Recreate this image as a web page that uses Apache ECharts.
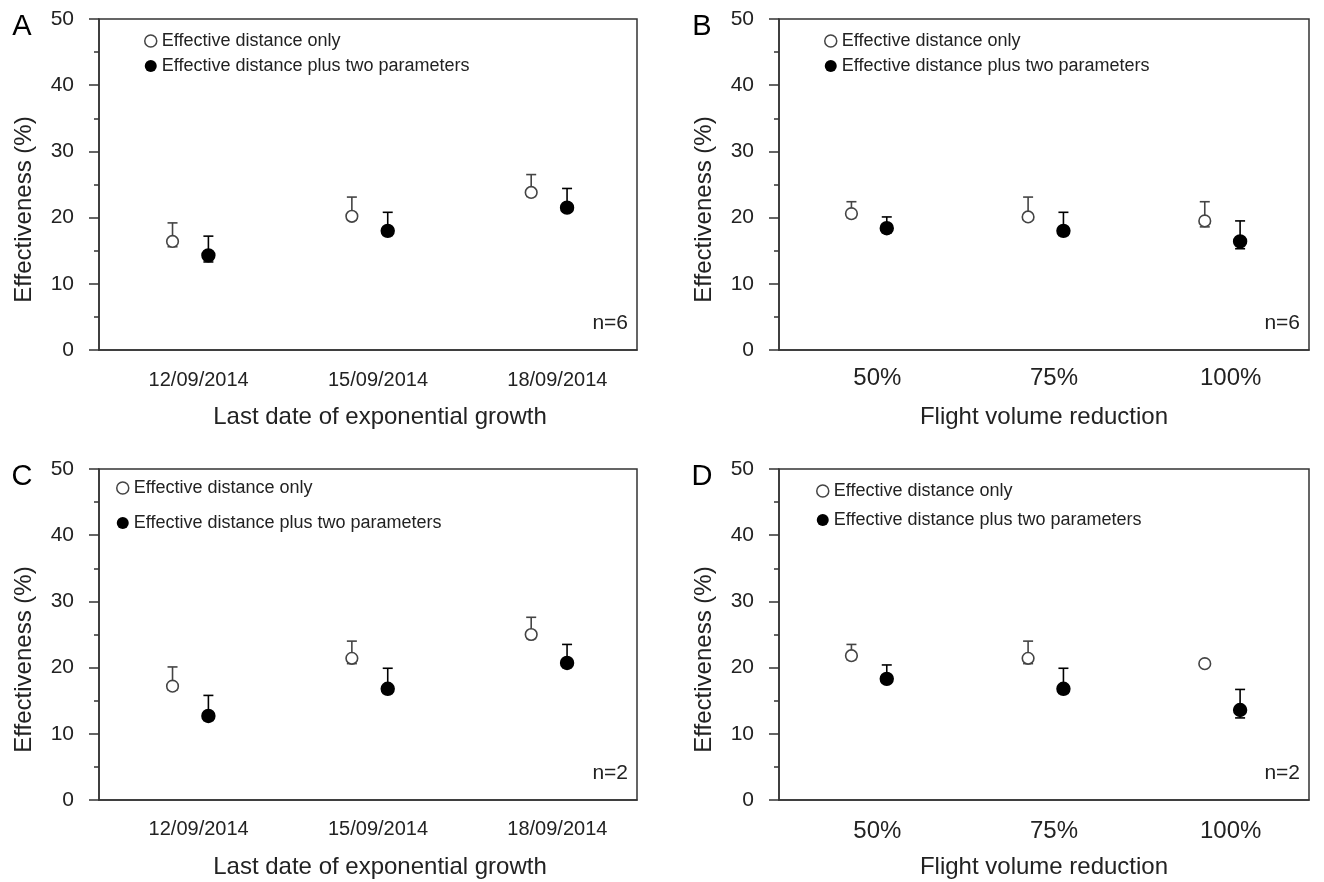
<!DOCTYPE html>
<html><head><meta charset="utf-8">
<script src="https://cdn.jsdelivr.net/npm/echarts@6/dist/echarts.min.js"></script>
<style>html,body{margin:0;padding:0;background:#fff}#c{width:1324px;height:882px}</style>
</head><body><div id="c"></div>
<script>
// ---- categories / labels ----
const dateCats = ['12/09/2014', '15/09/2014', '18/09/2014'];
const flightCats = ['50%', '75%', '100%'];
const seriesNames = ['Effective distance only', 'Effective distance plus two parameters'];
const yTitle = 'Effectiveness (%)';
const xTitleDate = 'Last date of exponential growth';
const xTitleFlight = 'Flight volume reduction';
const panelLetters = ['A', 'B', 'C', 'D'];
const nLabels = ['n=6', 'n=6', 'n=2', 'n=2'];

// ---- Panel A (n=6, by date) ----
const A_open = [16.4, 20.2, 23.8];
const A_openLo = [15.6, 19.6, 23.2];
const A_openHi = [19.2, 23.1, 26.5];
const A_fill = [14.3, 18.0, 21.5];
const A_fillLo = [13.3, 17.3, 20.9];
const A_fillHi = [17.2, 20.8, 24.4];

// ---- Panel B (n=6, by flight reduction) ----
const B_open = [20.6, 20.1, 19.5];
const B_openLo = [20.0, 19.6, 18.6];
const B_openHi = [22.4, 23.1, 22.4];
const B_fill = [18.4, 18.0, 16.4];
const B_fillLo = [17.7, 17.3, 15.3];
const B_fillHi = [20.1, 20.8, 19.5];

// ---- Panel C (n=2, by date) ----
const C_open = [17.2, 21.4, 25.0];
const C_openLo = [16.6, 20.6, 24.4];
const C_openHi = [20.1, 24.0, 27.6];
const C_fill = [12.7, 16.8, 20.7];
const C_fillLo = [12.0, 16.1, 20.0];
const C_fillHi = [15.8, 19.9, 23.5];

// ---- Panel D (n=2, by flight reduction) ----
const D_open = [21.8, 21.4, 20.6];
const D_openLo = [21.2, 20.6, 20.3];
const D_openHi = [23.5, 24.0, 20.9];
const D_fill = [18.3, 16.8, 13.6];
const D_fillLo = [17.7, 16.1, 12.4];
const D_fillHi = [20.4, 19.9, 16.7];

const FONT = 'Liberation Sans, Arial, sans-serif';
const TXT = '#222';
const AX = '#333';

const panels = [
  {cats: dateCats, xTitle: xTitleDate, catSize: 20, catMargin: 20, open: [A_open, A_openLo, A_openHi], fill: [A_fill, A_fillLo, A_fillHi],
   grid: {left: 99, top: 19, width: 538, height: 331}, legend: {left: 144, top: 32, gap: 7}},
  {cats: flightCats, xTitle: xTitleFlight, catSize: 24, catMargin: 16, open: [B_open, B_openLo, B_openHi], fill: [B_fill, B_fillLo, B_fillHi],
   grid: {left: 779, top: 19, width: 530, height: 331}, legend: {left: 824, top: 32, gap: 7}},
  {cats: dateCats, xTitle: xTitleDate, catSize: 20, catMargin: 19, open: [C_open, C_openLo, C_openHi], fill: [C_fill, C_fillLo, C_fillHi],
   grid: {left: 99, top: 469, width: 538, height: 331}, legend: {left: 116, top: 479, gap: 17}},
  {cats: flightCats, xTitle: xTitleFlight, catSize: 24, catMargin: 19, open: [D_open, D_openLo, D_openHi], fill: [D_fill, D_fillLo, D_fillHi],
   grid: {left: 779, top: 469, width: 530, height: 331}, legend: {left: 816, top: 482, gap: 11}}
];

function makeRender(offsetFrac, filled) {
  return function (params, api) {
    const c = api.value(0), y = api.value(1), lo = api.value(2), hi = api.value(3);
    const p = api.coord([c, y]);
    const band = api.size([1, 0])[0];
    const x = p[0] + offsetFrac * band;
    const yHi = api.coord([c, hi])[1];
    const yLo = api.coord([c, lo])[1];
    const cap = 5;
    const col = filled ? '#000' : '#444';
    return {
      type: 'group',
      children: [
        {type: 'line', shape: {x1: x, y1: yHi, x2: x, y2: yLo}, style: {stroke: col, lineWidth: 1.6}},
        {type: 'line', shape: {x1: x - cap, y1: yHi, x2: x + cap, y2: yHi}, style: {stroke: col, lineWidth: 1.6}},
        {type: 'line', shape: {x1: x - cap, y1: yLo, x2: x + cap, y2: yLo}, style: {stroke: col, lineWidth: 1.6}},
        {type: 'circle', shape: {cx: x, cy: p[1], r: filled ? 6.4 : 5.8},
         style: {fill: filled ? '#000' : '#fff', stroke: col, lineWidth: 1.6}}
      ]
    };
  };
}

const grid = [], xAxis = [], yAxis = [], series = [], legend = [], graphic = [];
panels.forEach((pn, i) => {
  grid.push(Object.assign({show: true, borderColor: AX, borderWidth: 1.5, backgroundColor: 'transparent'}, pn.grid));
  xAxis.push({
    type: 'category', gridIndex: i, data: pn.cats, boundaryGap: true,
    axisLine: {lineStyle: {color: AX, width: 1.5}}, axisTick: {show: false},
    axisLabel: {color: TXT, fontSize: pn.catSize, fontFamily: FONT, margin: pn.catMargin, padding: [0, 0, 0, 20]},
    name: pn.xTitle, nameLocation: 'middle', nameGap: 55,
    nameTextStyle: {color: TXT, fontSize: 24, fontFamily: FONT, padding: [0, 0, 0, i % 2 === 0 ? 24 : 0]}
  });
  yAxis.push({
    type: 'value', gridIndex: i, min: 0, max: 50, interval: 10,
    axisLine: {show: true, lineStyle: {color: AX, width: 1.5}},
    axisTick: {show: true, inside: false, length: 10, lineStyle: {color: AX, width: 1.5}},
    minorTick: {show: true, splitNumber: 2, length: 5, lineStyle: {color: AX, width: 1.5}},
    splitLine: {show: false},
    axisLabel: {color: TXT, fontSize: 21, fontFamily: FONT, margin: 25}
  });
  const mk = (arr) => arr[0].map((v, k) => [k, v, arr[1][k], arr[2][k]]);
  series.push({
    name: seriesNames[0], type: 'custom', xAxisIndex: i, yAxisIndex: i,
    renderItem: makeRender(-0.09, false), encode: {x: 0, y: 1}, data: mk(pn.open), z: 3
  });
  series.push({
    name: seriesNames[1], type: 'custom', xAxisIndex: i, yAxisIndex: i,
    renderItem: makeRender(0.11, true), encode: {x: 0, y: 1}, data: mk(pn.fill), z: 3
  });
  legend.push({
    left: pn.legend.left, top: pn.legend.top, orient: 'vertical', itemGap: pn.legend.gap, padding: 0,
    itemWidth: 12, itemHeight: 12, selectedMode: false,
    textStyle: {color: TXT, fontSize: 18, fontFamily: FONT, padding: [0, 0, 0, 0]},
    data: [
      {name: seriesNames[0], icon: 'circle', itemStyle: {color: '#fff', borderColor: '#444', borderWidth: 1.5}},
      {name: seriesNames[1], icon: 'circle', itemStyle: {color: '#000', borderColor: '#000', borderWidth: 0}}
    ]
  });
  const g = pn.grid;
  // y-axis title
  graphic.push({type: 'text', x: g.left - 75, y: g.top + g.height / 2 + 25, rotation: Math.PI / 2,
    style: {text: yTitle, fill: TXT, font: '24px ' + FONT, textAlign: 'center', textVerticalAlign: 'middle'}});
  // panel letter
  graphic.push({type: 'text', x: g.left - 77, y: g.top + 8,
    style: {text: panelLetters[i], fill: '#000', font: '29px ' + FONT, textAlign: 'center', textVerticalAlign: 'middle'}});
  // n label
  graphic.push({type: 'text', x: g.left + g.width - 9, y: g.top + g.height - 27,
    style: {text: nLabels[i], fill: TXT, font: '21px ' + FONT, textAlign: 'right', textVerticalAlign: 'middle'}});
});

const chart = echarts.init(document.getElementById('c'), null, {renderer: 'canvas'});
chart.setOption({animation: false, backgroundColor: '#fff', grid, xAxis, yAxis, series, legend, graphic});
</script>
</body></html>
